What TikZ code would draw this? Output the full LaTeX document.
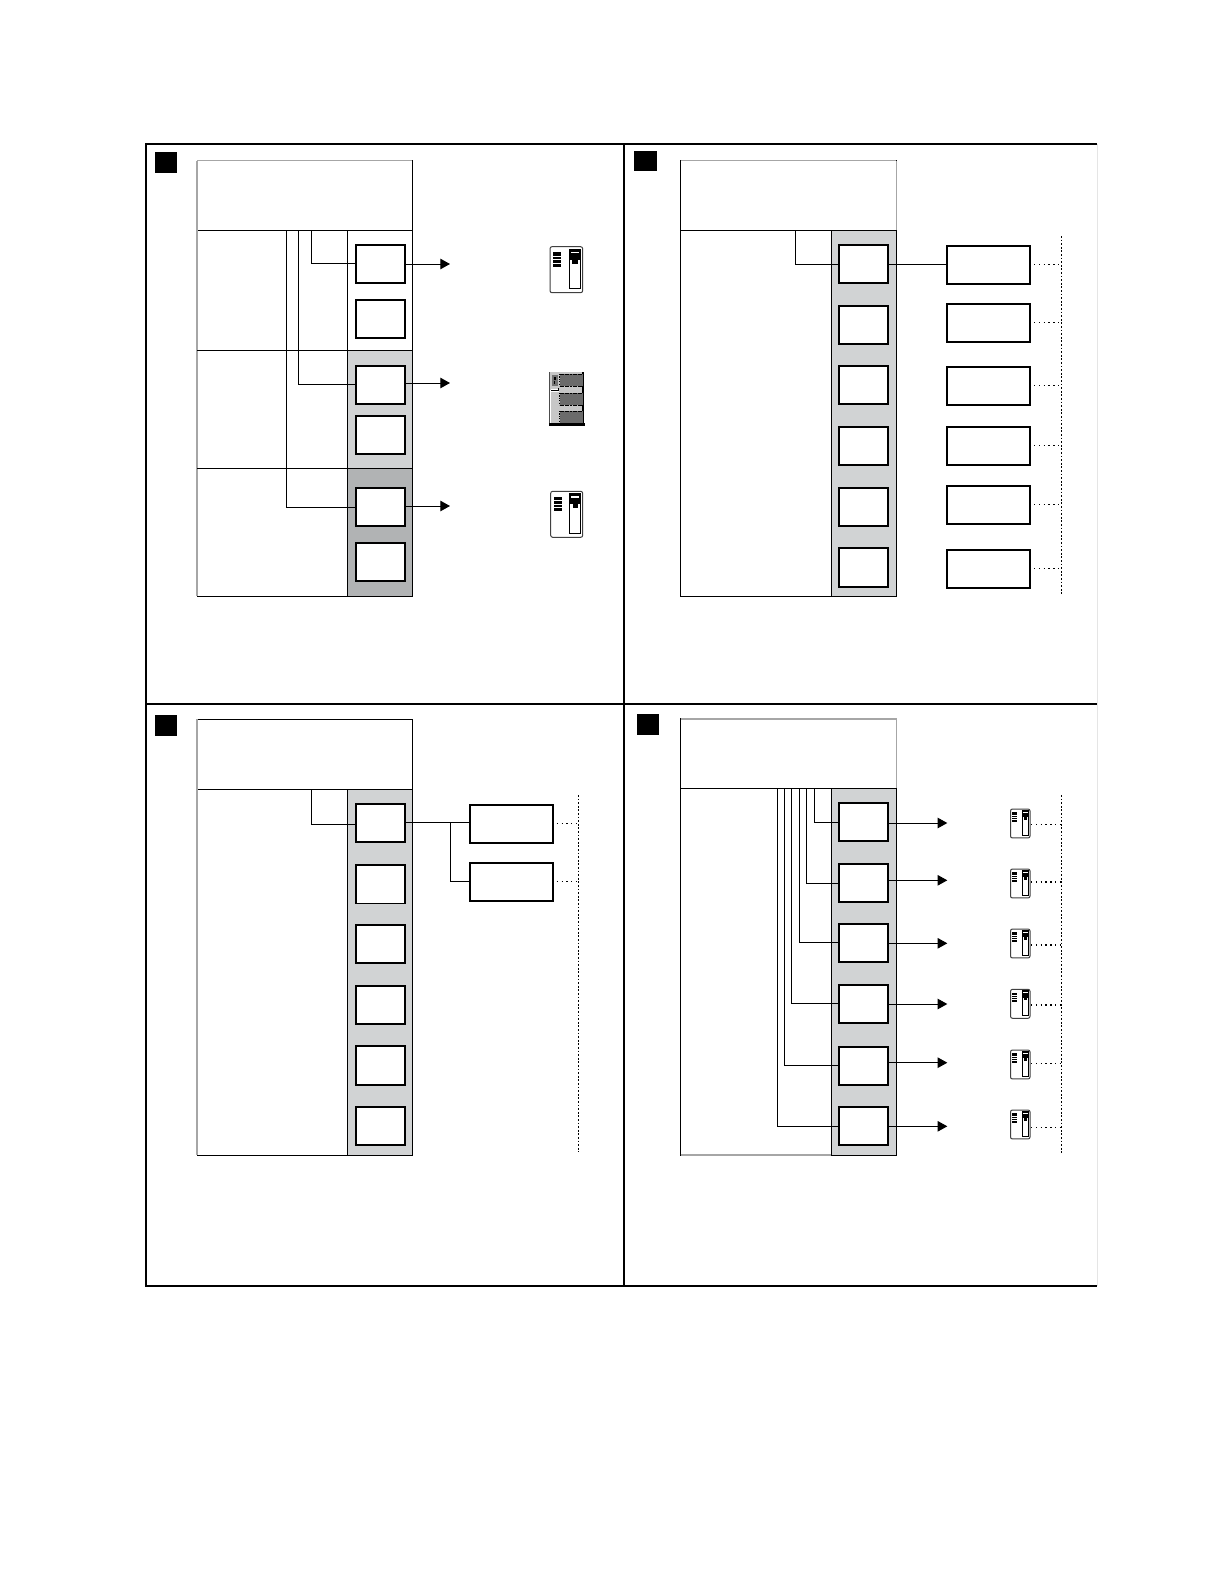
\documentclass[tikz,border=0pt]{standalone}
\usetikzlibrary{arrows.meta}
\definecolor{colgrey}{HTML}{D1D3D4}
\definecolor{coldark}{HTML}{B1B3B4}
\definecolor{edgegrey}{HTML}{A6A6A6}
\tikzset{
  framerule/.style={line width=1pt,black},
  boxst/.style={draw=black,fill=white,line width=.85pt,inner sep=0pt,outer sep=0pt},
  tagst/.style={fill=black,inner sep=0pt,outer sep=0pt},
  shellst/.style={draw=black,fill=white,line width=.5pt,inner sep=0pt,outer sep=0pt},
  bandst/.style={draw=black,line width=.5pt,inner sep=0pt,outer sep=0pt},
  wire/.style={line width=.5pt,black},
  arrowwire/.style={line width=.5pt,black,-{Triangle[length=4.8pt,width=5.2pt]}},
  dotshort/.style={line width=.65pt,black,dash pattern=on .65pt off 1.75pt},
  dotlong/.style={line width=.65pt,black,dash pattern=on .9pt off .9pt},
  softedge/.style={line width=.8pt,edgegrey},
}
% \bx[style]{name}{x1}{y1}{x2}{y2}
\newcommand{\bx}[6][boxst]{%
  \node[#1,minimum width={(#5-#3)*0.5pt},minimum height={(#6-#4)*0.5pt}] (#2) at ({(#3+#5)/2},{(#4+#6)/2}) {};}
% small tower icon: top-left x y, xscale, yscale, stripe width
\newcommand{\towericon}[5]{%
  \begin{scope}[shift={(#1,#2)},xscale=#3,yscale=#4]
    \draw[line width=.5pt,draw=black!75,fill=white,rounded corners=1pt] (0,0) rectangle (32,46);
    \fill[black] (3,5.5) rectangle (11,20);
    \foreach \s in {9,12.5,16}{\draw[white,line width=#5] (3,\s) -- (11,\s);}
    \draw[black,line width=.55pt,fill=white] (19,2.5) rectangle (30,42);
    \fill[black] (19,2.5) rectangle (30,13);
    \fill[black] (22,13) rectangle (27,17);
    \fill[white] (20.5,5) rectangle (28.5,6.2);
  \end{scope}}
% large cabinet icon
\newcommand{\cabineticon}[2]{%
  \begin{scope}[shift={(#1,#2)}]
    \fill[black!22] (0,0) rectangle (34,52);
    \draw[white,line width=.5pt] (1.2,18) -- (1.2,52);
    \draw[black!70,line width=.5pt] (0,0) -- (0,52);
    \draw[black,line width=.7pt] (33.5,0) -- (33.5,52);
    \fill[black] (-.5,51) rectangle (35,54);
    \foreach \a/\b in {2/14,21/33,39/51}{
      \fill[black!58] (10,\a) rectangle (33,\b);
      \draw[black,line width=.45pt,dash pattern=on 1pt off .3pt] (10,\a) -- (33,\a);
      \draw[black,line width=.45pt,dash pattern=on 1pt off .3pt] (10,\b) -- (33,\b);
      \draw[black,line width=.35pt,dash pattern=on .6pt off .6pt] (10,\a) -- (10,\b);}
    \fill[black!55] (2.5,3) rectangle (8.5,14);
    \fill[black] (4,5) rectangle (6,7.5);
    \fill[black] (4,9) rectangle (5.5,12);
    \fill[white] (1.5,16.5) rectangle (9,20);
    \draw[black,line width=.5pt] (1.5,18.5) -- (9,18.5) -- (9,16);
  \end{scope}}
\begin{document}
\begin{tikzpicture}[x=0.5pt,y=-0.5pt]
\fill[white] (0,0) rectangle (1224,1584);
\useasboundingbox (0,0) rectangle (1224,1584);

% ---------- outer frame
\coordinate (fTL) at (146,144);
\coordinate (fTM) at (624,144);
\coordinate (fTR) at (1097,144);
\coordinate (fML) at (146,704);
\coordinate (fMR) at (1097,704);
\coordinate (fBL) at (146,1286);
\coordinate (fBM) at (624,1286);
\coordinate (fBR) at (1097,1286);
\draw[line width=.5pt,black!10] (fTR) -- (fBR);
\draw[framerule] (fTR) -- (fTL) -- (fBL) -- (fBR);
\draw[framerule] (fML) -- (fMR);
\draw[framerule] (fTM) -- (fBM);

% ---------- tags
\bx[tagst]{tagA}{155}{152}{177}{173}
\bx[tagst]{tagB}{634}{151}{657}{171}
\bx[tagst]{tagC}{155}{715}{177}{736}
\bx[tagst]{tagD}{637}{714}{659}{735}

% ========== PANEL A
\bx[shellst]{headA}{197}{160.7}{412}{230.3}
\bx[shellst]{bodyA}{197}{230.3}{412}{596.3}
\draw[softedge] (headA.north west) -- (bodyA.south west);
\draw[softedge,line width=.5pt] (headA.north west) -- (headA.north east);
\bx[bandst,fill=white]{bandA1}{347.5}{230.3}{412}{350.3}
\bx[bandst,fill=colgrey]{bandA2}{347.5}{350.3}{412}{468.3}
\bx[bandst,fill=coldark]{bandA3}{347.5}{468.3}{412}{596.3}
\coordinate (secA1) at (197,350.3);
\coordinate (secA2) at (197,468.3);
\draw[wire] (secA1) -- (bandA2.north west);
\draw[wire] (secA2) -- (bandA3.north west);
\bx{a1}{355.7}{244.7}{405}{283}
\bx{a2}{355.7}{299.7}{405}{338}
\bx{a3}{355.7}{365.7}{405}{403.7}
\bx{a4}{355.7}{415.7}{405}{454}
\bx{a5}{355.7}{488.3}{405}{526}
\bx{a6}{355.7}{542.7}{405}{581}
\coordinate (ta1) at (311.7,230.3);
\coordinate (ta3) at (298.3,230.3);
\coordinate (ta5) at (286.3,230.3);
\draw[wire] (ta1) |- (a1.west);
\draw[wire] (ta3) |- (a3.west);
\draw[wire] (ta5) |- (a5.west);
\coordinate (ea1) at (450,264);
\coordinate (ea3) at (450,383);
\coordinate (ea5) at (450,506);
\draw[arrowwire] (a1.east |- ea1) -- (ea1);
\draw[arrowwire] (a3.east |- ea3) -- (ea3);
\draw[arrowwire] (a5.east |- ea5) -- (ea5);
\towericon{550}{246.7}{1.02}{1}{.2pt}
\cabineticon{549.5}{372}
\towericon{550.7}{491.3}{1}{1}{.2pt}

% ========== PANEL B
\bx[shellst]{headB}{680.7}{160.7}{896.3}{230.3}
\bx[shellst]{bodyB}{680.7}{230.3}{896.3}{596}
\draw[softedge] (headB.north east) -- (headB.south east);
\draw[softedge,line width=.5pt] (headB.north west) -- (headB.north east);
\bx[bandst,fill=colgrey]{bandB}{831.7}{230.3}{896.3}{596}
\bx{b1}{839.3}{245}{888.3}{283}
\bx{b2}{839.3}{305.7}{888.3}{344}
\bx{b3}{839.3}{365.7}{888.3}{404}
\bx{b4}{839.3}{426.7}{888.3}{465}
\bx{b5}{839.3}{488}{888.3}{526}
\bx{b6}{839.3}{548.3}{888.3}{587.3}
\coordinate (tb1) at (795.7,230.3);
\draw[wire] (tb1) |- (b1.west);
\bx{r1}{946.7}{246.3}{1030.3}{284}
\bx{r2}{946.7}{303.7}{1030.3}{342}
\bx{r3}{946.7}{366.7}{1030.3}{405}
\bx{r4}{946.7}{427.3}{1030.3}{465.3}
\bx{r5}{946.7}{485.7}{1030.3}{524}
\bx{r6}{946.7}{549.7}{1030.3}{588}
\draw[wire] (b1.east) -- (b1.east -| r1.west);
\coordinate (busBt) at (1061.7,236);
\coordinate (busBb) at (1061.7,594);
\draw[dotlong] (busBt) -- (busBb);
\foreach \n/\yy in {r1/264.3,r2/322.3,r3/385.3,r4/445.3,r5/504.3,r6/568.3}{
  \coordinate (d\n) at (1034,\yy);
  \draw[dotshort] (d\n) -- (d\n -| busBt);}

% ========== PANEL C
\bx[shellst]{headC}{197}{719.3}{412}{789.3}
\bx[shellst]{bodyC}{197}{789.3}{412}{1155}
\draw[softedge] (headC.north west) -- (bodyC.south west);
\bx[bandst,fill=colgrey]{bandC}{347.5}{789.3}{412}{1155}
\bx{c1}{355.7}{803.7}{405}{842}
\bx{c2}{355.7}{864.7}{405}{903.5}
\bx{c3}{355.7}{925}{405}{963}
\bx{c4}{355.7}{985.7}{405}{1024}
\bx{c5}{355.7}{1046}{405}{1085}
\bx{c6}{355.7}{1107}{405}{1145}
\coordinate (tc1) at (311.7,789.3);
\coordinate (wc1) at (355.7,824.3);
\draw[wire] (tc1) |- (wc1);
\bx{s1}{469.7}{804.7}{553.3}{843}
\bx{s2}{469.7}{862.7}{553.3}{900.7}
\draw[wire] (c1.east) -- (c1.east -| s1.west);
\coordinate (jc) at (450.3,823);
\draw[wire] (jc) |- (s2.west);
\coordinate (busCt) at (578.3,795);
\coordinate (busCb) at (578.3,1152);
\draw[dotlong] (busCt) -- (busCb);
\coordinate (ds1) at (556.7,823.3);
\coordinate (ds2) at (556.7,881.3);
\draw[dotshort] (ds1) -- (ds1 -| busCt);
\draw[dotshort] (ds2) -- (ds2 -| busCt);

% ========== PANEL D
\bx[shellst]{headD}{680.7}{718.7}{896.3}{788.7}
\bx[shellst]{bodyD}{680.7}{788.7}{896.3}{1155}
\draw[softedge] (headD.north west) -- (headD.north east) -- (headD.south east);
\draw[softedge] (bodyD.south west) -- (bodyD.south east);
\bx[bandst,fill=colgrey]{bandD}{831.7}{788.7}{896.3}{1155}
\bx{d1}{839.3}{803.3}{888.3}{841.3}
\bx{d2}{839.3}{864}{888.3}{902}
\bx{d3}{839.3}{923.7}{888.3}{962}
\bx{d4}{839.3}{984.7}{888.3}{1023}
\bx{d5}{839.3}{1046.7}{888.3}{1084.7}
\bx{d6}{839.3}{1107.3}{888.3}{1145}
\foreach \n/\xx in {1/814.3,2/806.3,3/799.3,4/791.3,5/784.3,6/777.3}{
  \coordinate (td\n) at (\xx,788.7);
  \draw[wire] (td\n) |- (d\n.west);}
\foreach \n/\yy in {1/823,2/880.3,3/943.3,4/1004,5/1062.7,6/1126.3}{
  \coordinate (ed\n) at (947.3,\yy);
  \draw[arrowwire] (d\n.east |- ed\n) -- (ed\n);}
\foreach \yy in {809,869,929,989.3,1050,1110}{
  \towericon{1010.5}{\yy}{.61}{.63}{.1pt}}
\coordinate (busDt) at (1061.7,795);
\coordinate (busDb) at (1061.7,1153.5);
\draw[dotlong] (busDt) -- (busDb);
\foreach \n/\yy in {1/824.3,2/882,3/945,4/1005,5/1063.3,6/1127.3}{
  \coordinate (dd\n) at (1031,\yy);
  \draw[dotshort] (dd\n) -- (dd\n -| busDt);}
\end{tikzpicture}
\end{document}
